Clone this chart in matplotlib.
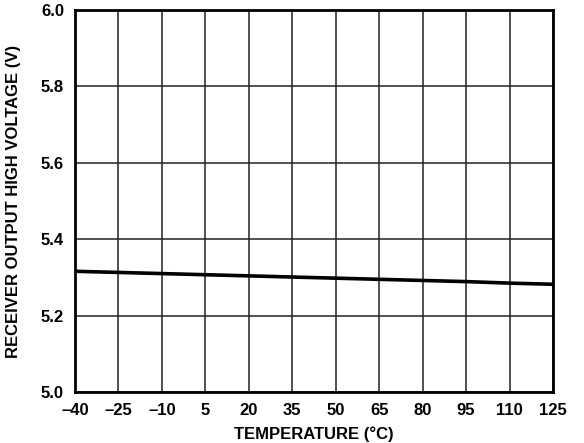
import matplotlib
matplotlib.use("Agg")
from matplotlib import pyplot as plt

# temperature (°C) vs receiver output high voltage (V)
temperature = [-40, -25, -10, 5, 20, 35, 50, 65, 80, 95, 110, 125]
voltage = [5.316, 5.313, 5.310, 5.307, 5.304, 5.301, 5.298, 5.295, 5.292, 5.289, 5.285, 5.282]

x_ticks = [-40, -25, -10, 5, 20, 35, 50, 65, 80, 95, 110, 125]
y_ticks = [5.0, 5.2, 5.4, 5.6, 5.8, 6.0]

plt.rcParams["font.family"] = ["Liberation Sans", "DejaVu Sans"]
plt.rcParams["font.weight"] = "bold"

fig = plt.figure(figsize=(5.84, 4.43), dpi=100)
ax = fig.add_axes([75 / 584, 1 - 392 / 443, 478 / 584, 382 / 443])

ax.plot(temperature, voltage, color="black", linewidth=2.6, solid_capstyle="butt")

ax.set_xlim(-40, 125)
ax.set_ylim(5.0, 6.0)
ax.set_xticks(x_ticks)
ax.set_xticklabels([str(t).replace("-", "\u2013") for t in x_ticks])
ax.set_yticks(y_ticks)
ax.set_yticklabels([f"{v:.1f}" for v in y_ticks])
ax.tick_params(length=0, labelsize=12, pad=8)
for lab in ax.get_xticklabels() + ax.get_yticklabels():
    lab.set_fontweight("bold")

ax.grid(True, color="#222222", linewidth=1.1)
ax.set_axisbelow(True)
for spine in ax.spines.values():
    spine.set_linewidth(2)
    spine.set_color("black")

ax.set_xlabel("TEMPERATURE (\u00b0C)", fontsize=12, fontweight="bold", labelpad=6)
ax.set_ylabel("RECEIVER OUTPUT HIGH VOLTAGE (V)", fontsize=12, fontweight="bold", labelpad=14)

fig.savefig("out.png", dpi=100)
